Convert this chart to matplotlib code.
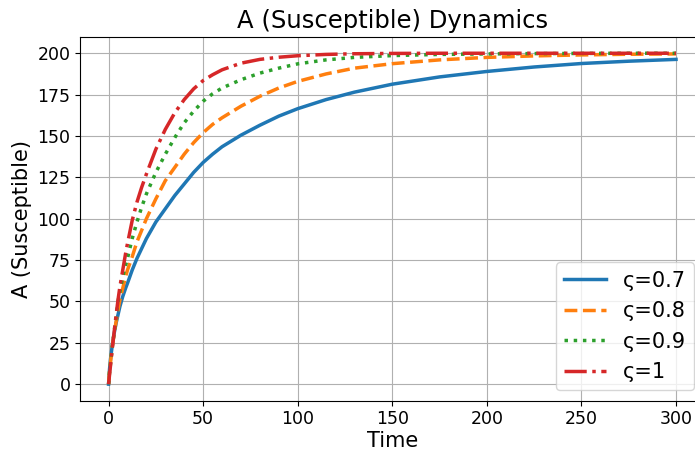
import matplotlib
matplotlib.use("Agg")
import matplotlib.pyplot as plt

time = [0, 0.5, 1, 2, 3, 4, 5, 6, 7.5, 9, 10, 12.5, 15, 17.5, 20, 25, 30, 35,
        40, 45, 50, 55, 60, 70, 80, 90, 100, 115, 130, 150, 175, 200, 225,
        250, 275, 300]

# A (Susceptible) for each fractional order
a_07 = [0, 9, 15, 24, 31, 37, 42, 47, 53, 58, 61, 69, 76, 82, 88, 98, 106, 114,
        121, 128, 134, 139, 143.5, 150.5, 156.5, 162, 166.5, 172, 176.5, 181.3,
        185.7, 189, 191.7, 193.8, 195.2, 196.3]
a_08 = [0, 8, 13, 23, 31, 38, 45, 51, 58, 65, 69, 77, 86, 93, 100, 112, 123, 131,
        139, 146, 152, 157, 161, 168, 174, 179, 183, 187.5, 191, 193.7,
        196, 197.5, 198.4, 199, 199.4, 199.6]
a_09 = [0, 7, 12, 23, 32, 41, 50, 56, 65, 72, 76, 88, 98, 107, 115, 128, 139, 149,
        158, 165, 171, 175.5, 179, 184, 188, 191, 193.6, 196, 197.5, 198.6,
        199.3, 199.6, 199.8, 199.9, 200, 200]
a_10 = [0, 5.5, 11, 22, 32, 42, 51, 59, 69, 79, 85, 99, 110, 119, 127, 142, 154, 164,
        172, 178.5, 183.5, 187, 190, 194, 196.3, 197.6, 198.5, 199.3, 199.7, 199.9,
        200, 200, 200, 200, 200, 200]

series = [a_07, a_08, a_09, a_10]
labels = ["ς=0.7", "ς=0.8", "ς=0.9", "ς=1"]
styles = ["-", "--", ":", "-."]
colors = ["#1f77b4", "#ff7f0e", "#2ca02c", "#d62728"]

fig = plt.figure(figsize=(6.95, 4.51), dpi=100)
ax = fig.add_axes([0.1154, 0.1115, 0.8981, 0.8071])

for y, lab, ls, c in zip(series, labels, styles, colors):
    ax.plot(time, y, ls, color=c, lw=2.5, label=lab)

ax.set_xlim(-15, 315)
ax.set_ylim(-10, 210)
ax.set_xticks([0, 50, 100, 150, 200, 250, 300])
ax.set_yticks([0, 25, 50, 75, 100, 125, 150, 175, 200])
ax.tick_params(labelsize=12.5)
ax.grid(True)
ax.set_xlabel("Time", fontsize=15, labelpad=2)
ax.set_ylabel("A (Susceptible)", fontsize=15)
ax.set_title("A (Susceptible) Dynamics", fontsize=17.5)
ax.legend(loc="lower right", fontsize=15)

fig.savefig("out.png", dpi=100)
